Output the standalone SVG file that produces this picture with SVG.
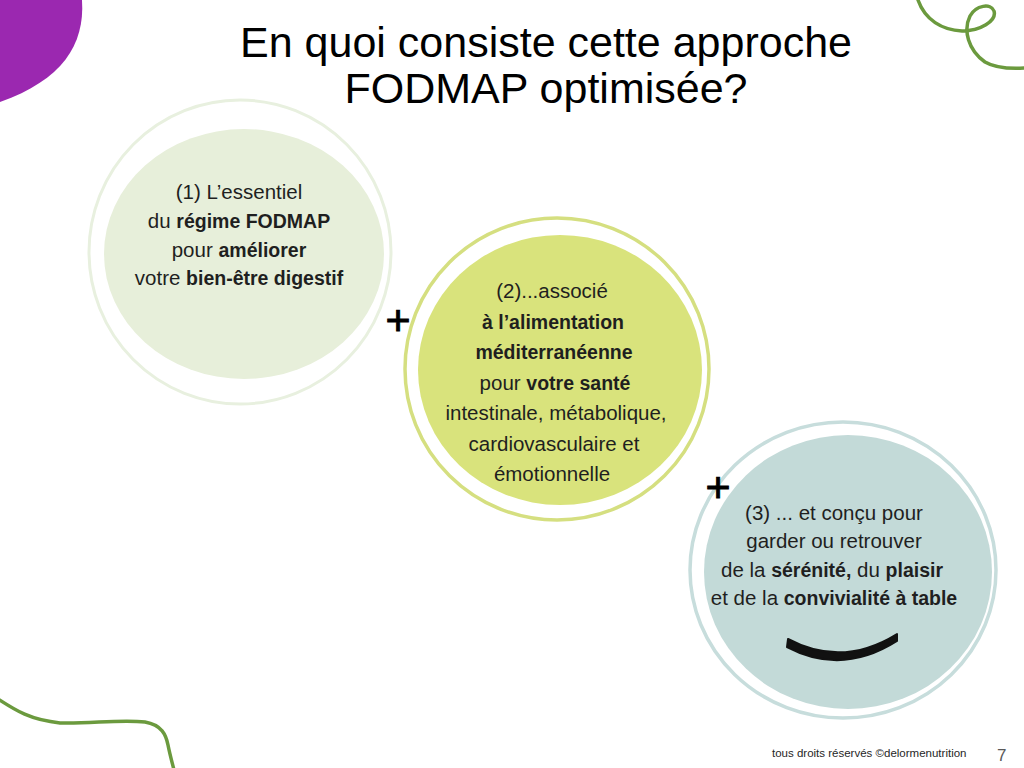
<svg xmlns="http://www.w3.org/2000/svg" width="1024" height="768" viewBox="0 0 1024 768">
<style>
.t{font-family:"Liberation Sans",Arial,sans-serif;fill:#1f1f1f;font-size:20.5px;text-anchor:middle}
.b{font-weight:bold;font-size:19.5px}
.title{font-family:"Liberation Sans",Arial,sans-serif;fill:#000;font-size:43px;text-anchor:middle}
.plus{font-family:"Liberation Sans",Arial,sans-serif;fill:#000;stroke:#000;stroke-width:0.9;font-size:43px;text-anchor:middle}
.deco{fill:none;stroke:#6b9a3e;stroke-width:3.5;stroke-linecap:round}
</style>
<rect width="1024" height="768" fill="#ffffff"/>
<g id="decor">
<path d="M0,0 L82,0 C85,45 62,80 0,102 Z" fill="#9b28b0"/>
<path class="deco" d="M918,0 C925,20 942,30 962,31 C980,31 997,21 994,11 C991,3 976,5 970,16 C963,30 968,50 985,62 C995,68 1010,69 1026,68"/>
<path class="deco" d="M-2,699 C15,710 30,720 60,723 C90,724 120,719 145,722 C162,725 166,735 168,745 C170,755 172,762 174,770"/>
</g>
<g id="title">
<text class="title" x="546" y="57">En quoi consiste cette approche</text>
<text class="title" x="546" y="103">FODMAP optimisée?</text>
</g>
<g id="node1">
<ellipse cx="244" cy="254" rx="140" ry="125" fill="#e7efda"/>
<ellipse cx="240" cy="252" rx="151" ry="152" fill="none" stroke="#e8f0df" stroke-width="3"/>
<text class="t" x="239" y="199">(1) L’essentiel</text>
<text class="t" x="239" y="228">du <tspan class="b">régime FODMAP</tspan></text>
<text class="t" x="239" y="257">pour <tspan class="b">améliorer</tspan></text>
<text class="t" x="239" y="285">votre <tspan class="b">bien-être digestif</tspan></text>
</g>
<g id="node2">
<ellipse cx="560" cy="370" rx="142" ry="135" fill="#d9e37c"/>
<ellipse cx="557" cy="369" rx="152" ry="151" fill="none" stroke="#d5df80" stroke-width="3.5"/>
<text class="t" x="552" y="298">(2)...associé</text>
<text class="t b" x="553" y="328.5">à l’alimentation</text>
<text class="t b" x="554" y="359">méditerranéenne</text>
<text class="t" x="555" y="389.5">pour <tspan class="b">votre santé</tspan></text>
<text class="t" x="556" y="420">intestinale, métabolique,</text>
<text class="t" x="554" y="450.5">cardiovasculaire et</text>
<text class="t" x="552" y="481">émotionnelle</text>
</g>
<g id="node3">
<ellipse cx="848" cy="572" rx="144" ry="137" fill="#c3dad8"/>
<ellipse cx="843" cy="570" rx="153" ry="148" fill="none" stroke="#c7dddc" stroke-width="3.5"/>
<text class="t" x="834" y="520">(3) ... et conçu pour</text>
<text class="t" x="834" y="548">garder ou retrouver</text>
<text class="t" x="832" y="577">de la <tspan class="b">sérénité,</tspan> du <tspan class="b">plaisir</tspan></text>
<text class="t" x="834" y="605">et de la <tspan class="b">convivialité à table</tspan></text>
<path d="M788,639 Q842,668 897,634 L897,641 Q842,676 787,647 Z" fill="#111" stroke="#111" stroke-width="2" stroke-linejoin="round"/>
</g>
<g id="connectors">
<text class="plus" x="398" y="335">+</text>
<text class="plus" x="718" y="502">+</text>
</g>
<g id="footer">
<text x="772" y="757" font-family="Liberation Sans, Arial, sans-serif" font-size="11.5" fill="#262626">tous droits réservés ©delormenutrition</text>
<text x="997" y="761" font-family="Liberation Sans, Arial, sans-serif" font-size="17" fill="#595959">7</text>
</g>
</svg>
